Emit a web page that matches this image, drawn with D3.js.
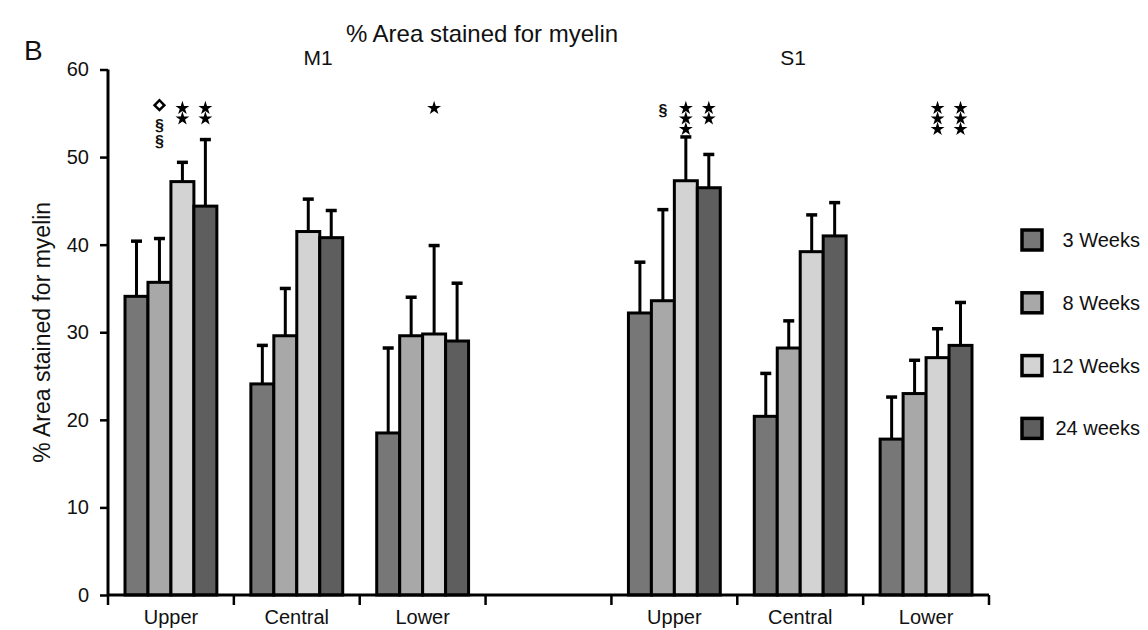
<!DOCTYPE html>
<html>
<head>
<meta charset="utf-8">
<script src="https://cdn.jsdelivr.net/npm/d3@7"></script>
<style>
  body { margin: 0; background: #fff; }
  text { font-family: "Liberation Sans", Arial, sans-serif; fill: #111; }
</style>
</head>
<body>
<svg id="chart" width="1148" height="630"></svg>
<script>
// data
var regions = ['M1', 'S1'];
var layers = ['Upper', 'Central', 'Lower'];
var series = ['3 Weeks', '8 Weeks', '12 Weeks', '24 weeks'];
var yTicks = [0, 10, 20, 30, 40, 50, 60];

// mean values, one row per group, columns follow series
var means = [
  [34.1, 35.7, 47.2, 44.4], // M1 Upper
  [24.1, 29.6, 41.5, 40.8], // M1 Central
  [18.5, 29.6, 29.8, 29.0], // M1 Lower
  [32.2, 33.6, 47.3, 46.5], // S1 Upper
  [20.4, 28.2, 39.2, 41.0], // S1 Central
  [17.8, 23.0, 27.1, 28.5]  // S1 Lower
];
// error bar length (upper part only)
var errors = [
  [6.3, 5.0, 2.2, 7.6],
  [4.4, 5.4, 3.7, 3.1],
  [9.7, 4.4, 10.1, 6.6],
  [5.8, 10.4, 5.0, 3.8],
  [4.9, 3.1, 4.2, 3.8],
  [4.8, 3.8, 3.3, 4.9]
];
// significance marks: group index, series index, marks from top
var marks = [
  { g: 0, s: 1, m: ['diamond', '§', '§'] },
  { g: 0, s: 2, m: ['star', 'star'] },
  { g: 0, s: 3, m: ['star', 'star'] },
  { g: 2, s: 2, m: ['star'] },
  { g: 3, s: 1, m: ['§'] },
  { g: 3, s: 2, m: ['star', 'star', 'star'] },
  { g: 3, s: 3, m: ['star', 'star'] },
  { g: 5, s: 2, m: ['star', 'star', 'star'] },
  { g: 5, s: 3, m: ['star', 'star', 'star'] }
];

var colors = ['#777777', '#a8a8a8', '#d3d3d3', '#5e5e5e'];

var svg = d3.select('#chart'),
    plotLeft = 108, plotRight = 989, // x axis extent
    plotTop = 69.5, plotBottom = 595, // y axis extent
    regionLabelX = { M1: 318, S1: 793 }; // panel headings

// slot keys: 3 layers, one empty slot, 3 layers
var slots = [];
regions.forEach(function(r, i) {
  if (i > 0) slots.push('gap');
  layers.forEach(function(l) { slots.push(r + ' ' + l); });
});
var groupKeys = slots.filter(function(d) { return d !== 'gap'; });

var x0 = d3.scaleBand().domain(slots).range([plotLeft, plotRight]).padding(0);
var x1 = d3.scaleBand().domain(series).range([17, x0.bandwidth() - 17]).padding(0);
var y = d3.scaleLinear().domain([0, 60]).range([plotBottom, plotTop]);

// titles
svg.append('text').attr('x', 482).attr('y', 42).attr('text-anchor', 'middle')
  .style('font-size', '24px').text('% Area stained for myelin');
svg.append('text').attr('x', 24).attr('y', 60).style('font-size', '28px').text('B');
regions.forEach(function(r) {
  svg.append('text')
    .attr('x', regionLabelX[r])
    .attr('y', 65).attr('text-anchor', 'middle')
    .style('font-size', '21px').text(r);
});

// y label
svg.append('text')
  .attr('transform', 'translate(50,' + ((plotTop + plotBottom) / 2) + ') rotate(-90)')
  .attr('text-anchor', 'middle').style('font-size', '23px')
  .text('% Area stained for myelin');

// bars
var groups = svg.selectAll('g.grp')
  .data(groupKeys)
  .enter().append('g')
  .attr('class', 'grp')
  .attr('transform', function(d) { return 'translate(' + x0(d) + ',0)'; });

var cells = groups.selectAll('g.cell')
  .data(function(d, gi) {
    return series.map(function(s, si) {
      return { s: s, si: si, v: means[gi][si], e: errors[gi][si] };
    });
  })
  .enter().append('g').attr('class', 'cell');

// error bars (drawn first, bar covers bottom)
cells.append('line')
  .attr('x1', function(d) { return x1(d.s) + x1.bandwidth() / 2; })
  .attr('x2', function(d) { return x1(d.s) + x1.bandwidth() / 2; })
  .attr('y1', function(d) { return y(d.v); })
  .attr('y2', function(d) { return y(d.v + d.e); })
  .attr('stroke', '#000').attr('stroke-width', 3);
cells.append('line')
  .attr('x1', function(d) { return x1(d.s) + x1.bandwidth() / 2 - 5.5; })
  .attr('x2', function(d) { return x1(d.s) + x1.bandwidth() / 2 + 5.5; })
  .attr('y1', function(d) { return y(d.v + d.e); })
  .attr('y2', function(d) { return y(d.v + d.e); })
  .attr('stroke', '#000').attr('stroke-width', 3.5);

cells.append('rect')
  .attr('x', function(d) { return x1(d.s); })
  .attr('y', function(d) { return y(d.v); })
  .attr('width', x1.bandwidth())
  .attr('height', function(d) { return y(0) - y(d.v); })
  .attr('fill', function(d) { return colors[d.si]; })
  .attr('stroke', '#000').attr('stroke-width', 3);

// significance marks
var markTop = 55.7, step = { star: 10.5, '§': 16, diamond: 18 };
marks.forEach(function(mk) {
  var cx = x0(groupKeys[mk.g]) + x1(series[mk.s]) + x1.bandwidth() / 2,
      cy = y(markTop);
  mk.m.forEach(function(t, k) {
    if (t === 'star') {
      svg.append('path')
        .attr('d', d3.symbol().type(d3.symbolStar).size(60)())
        .attr('transform', 'translate(' + cx + ',' + (cy + 1) + ')')
        .attr('fill', '#000');
      cy += step.star;
    } else if (t === 'diamond') {
      svg.append('path')
        .attr('d', d3.symbol().type(d3.symbolSquare).size(48)())
        .attr('transform', 'translate(' + cx + ',' + (cy - 2) + ') rotate(45)')
        .attr('fill', 'none').attr('stroke', '#000').attr('stroke-width', 2.5);
      cy += step.diamond;
    } else {
      svg.append('text').attr('x', cx).attr('y', cy + (k === 0 ? 3 : 0))
        .attr('text-anchor', 'middle').attr('dominant-baseline', 'central')
        .style('font-size', '16px').style('font-weight', 'bold').text(t);
      cy += step['§'];
    }
  });
});

// axes
var yAxis = svg.append('g')
  .attr('transform', 'translate(' + plotLeft + ',0)')
  .call(d3.axisLeft(y).tickValues(yTicks).tickSize(8).tickPadding(11));
var xAxis = svg.append('g')
  .attr('transform', 'translate(0,' + plotBottom + ')')
  .call(d3.axisBottom(x0).tickSize(0).tickPadding(15)
    .tickFormat(function(d) { return d === 'gap' ? '' : d.split(' ')[1]; }));

// boundary ticks between slots
svg.selectAll('line.xt')
  .data(slots.concat(['end']))
  .enter().append('line')
  .attr('class', 'xt')
  .attr('x1', function(d, i) { return plotLeft + i * x0.step(); })
  .attr('x2', function(d, i) { return plotLeft + i * x0.step(); })
  .attr('y1', plotBottom).attr('y2', plotBottom + 10)
  .attr('stroke', '#000').attr('stroke-width', 2.5);

[yAxis, xAxis].forEach(function(a) {
  a.select('.domain').attr('stroke', '#000').attr('stroke-width', 3);
  a.selectAll('.tick line').attr('stroke', '#000').attr('stroke-width', 2.5);
  a.selectAll('.tick text').style('font-size', '20px')
    .style('font-family', '"Liberation Sans", Arial, sans-serif').attr('fill', '#111');
});
yAxis.select('.domain').attr('d', 'M0,' + plotTop + 'V' + plotBottom);
xAxis.select('.domain').attr('d', 'M' + plotLeft + ',0H' + plotRight);

// legend
var legend = svg.selectAll('g.leg')
  .data(series)
  .enter().append('g')
  .attr('class', 'leg')
  .attr('transform', function(d, i) { return 'translate(0,' + (240 + i * 62.8) + ')'; });
legend.append('rect')
  .attr('x', 1022).attr('y', -10).attr('width', 20).attr('height', 20)
  .attr('fill', function(d, i) { return colors[i]; })
  .attr('stroke', '#000').attr('stroke-width', 3.5);
legend.append('text')
  .attr('x', 1140).attr('y', 0).attr('dy', '0.35em').attr('text-anchor', 'end')
  .style('font-size', '20px').text(function(d) { return d; });
</script>
</body>
</html>
